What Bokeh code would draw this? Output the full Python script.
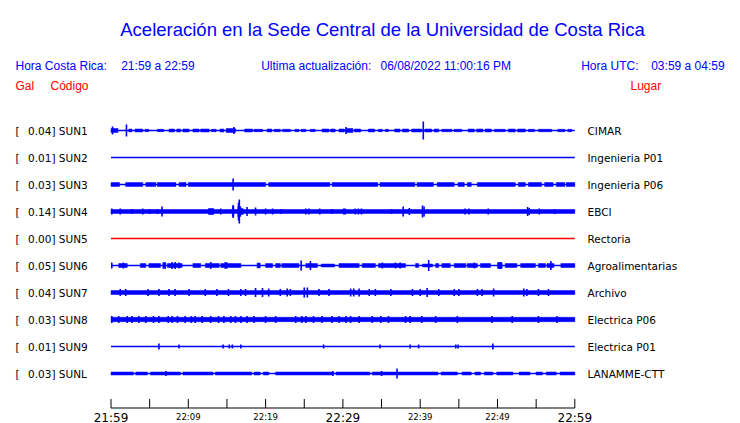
from bokeh.plotting import figure
from bokeh.models import Range1d, ColumnDataSource
from bokeh.core.properties import value
from bokeh.embed import file_html
from bokeh.resources import INLINE

# ---------------- data ----------------
TITLE = "Aceleración en la Sede Central de la Universidad de Costa Rica"
codes = ["SUN1", "SUN2", "SUN3", "SUN4", "SUN5", "SUN6", "SUN7", "SUN8", "SUN9", "SUNL"]
places = ["CIMAR", "Ingenieria P01", "Ingenieria P06", "EBCI", "Rectoria",
          "Agroalimentarias", "Archivo", "Electrica P06", "Electrica P01", "LANAMME-CTT"]
peak_gal = [0.04, 0.01, 0.03, 0.14, 0.00, 0.05, 0.04, 0.03, 0.01, 0.03]
trace_colors = ["blue", "blue", "blue", "blue", "red", "blue", "blue", "blue", "blue", "blue"]

# minutes after 21:59 local time
tick_minutes = [0, 5, 10, 15, 20, 25, 30, 35, 40, 45, 50, 55, 60]
big_label_minutes = [0, 30, 60]
big_labels = ["21:59", "22:29", "22:59"]
small_label_minutes = [10, 20, 40, 50]
small_labels = ["22:09", "22:19", "22:39", "22:49"]

# bursts of activity: (start min, end min, half amplitude)
bursts = {
    "SUN1": [(0.0, 0.9, 2), (2.3, 2.7, 1.5), (3.1, 4.1, 1.5), (4.4, 4.9, 1.2), (6.0, 6.8, 1.2),
             (7.5, 8.2, 1.5), (8.5, 9.0, 1.5), (9.3, 10.1, 1.5), (10.6, 11.4, 1.5), (11.6, 12.7, 1.5),
             (13.0, 13.6, 1.2), (14.1, 14.6, 1.5), (14.9, 16.1, 2), (17.3, 18.3, 1.5),
             (18.5, 19.6, 1.2), (20.2, 20.8, 1.5), (21.1, 21.9, 1.2), (22.2, 23.2, 1.2),
             (23.8, 24.3, 1.2), (24.6, 25.2, 1.2), (25.8, 26.4, 1.2), (27.3, 28.2, 1.5),
             (28.4, 29.0, 1.5), (29.5, 30.2, 1.5), (30.4, 31.3, 2), (31.5, 32.3, 1.5),
             (33.3, 34.1, 1.5), (34.6, 35.1, 1.2), (35.5, 35.9, 1.2), (36.7, 37.4, 1.5),
             (37.7, 38.5, 1.5), (38.9, 40.2, 1.5), (40.6, 41.5, 1.5), (41.8, 42.4, 1.5),
             (42.8, 44.1, 1.2), (44.4, 45.4, 1.2), (46.2, 47.0, 1.5), (47.3, 48.1, 1.5),
             (48.4, 49.2, 1.5), (49.6, 51.0, 1.2), (51.4, 52.3, 1.5), (52.6, 53.6, 1.5),
             (54.0, 54.8, 1.2), (55.3, 57.0, 1.2), (57.8, 58.7, 1.2), (59.1, 59.6, 1.2)],
    "SUN2": [],
    "SUN3": [(0, 1.1, 2), (1.9, 4.1, 2), (4.5, 5.8, 2), (6.0, 8.4, 2), (8.8, 9.7, 2),
             (10.0, 20.0, 2), (20.4, 28.3, 2), (28.6, 34.5, 2), (34.8, 39.3, 2),
             (39.6, 41.7, 2), (42.2, 44.4, 2), (44.9, 45.7, 2), (46.1, 46.6, 2),
             (47.4, 52.3, 2), (52.7, 53.6, 2), (54.0, 55.7, 2), (56.1, 57.2, 2),
             (57.6, 58.7, 2), (58.9, 60, 2)],
    "SUN4": [(0, 60, 2), (12.6, 13.3, 3), (15.7, 15.9, 5), (16.4, 16.8, 5), (16.8, 17.1, 3)],
    "SUN5": [],
    "SUN6": [(1.0, 2.1, 2), (3.8, 4.5, 2), (4.9, 6.4, 2), (6.7, 7.1, 3), (7.3, 9.2, 2),
             (10.6, 11.6, 2), (12.2, 14.0, 2), (14.2, 16.8, 2), (18.9, 19.3, 2.5),
             (20.0, 20.9, 2), (21.3, 21.9, 2), (22.1, 24.3, 2), (25.2, 26.7, 2),
             (27.2, 28.9, 1.5), (29.5, 32.1, 2), (32.5, 34.2, 2), (34.6, 38.1, 2),
             (39.4, 39.8, 2), (40.3, 41.6, 1.5), (42.0, 42.4, 2), (42.8, 43.9, 2),
             (44.4, 45.9, 2), (46.1, 47.4, 2), (47.8, 49.1, 2), (50.0, 50.6, 3),
             (51.0, 52.5, 2), (53.0, 54.9, 2), (55.3, 56.2, 2), (56.4, 57.3, 2), (58.2, 60, 2)],
    "SUN7": [(0, 60, 2)],
    "SUN8": [(0, 60, 2.2)],
    "SUN9": [],
    "SUNL": [(0, 2.9, 1.5), (3.2, 4.7, 1.5), (5.1, 9.0, 1.5), (9.3, 13.2, 1.5),
             (13.5, 18.2, 1.5), (18.5, 19.3, 1.5), (19.7, 20.4, 1.5), (21.3, 28.8, 1.5),
             (29.1, 33.5, 1.5), (33.8, 42.3, 1.5), (42.7, 44.8, 1.5), (45.4, 46.6, 1.5),
             (47.1, 47.8, 1.5), (48.3, 49.4, 1.5), (49.9, 52.0, 1.5), (52.8, 54.2, 1.5),
             (55.0, 55.8, 1.5), (56.3, 57.6, 1.5), (58.1, 60, 1.5)],
}

# single peaks: (minute, half amplitude)
spikes = {
    "SUN1": [(0.2, 4), (2.0, 6), (15.9, 3.5), (30.4, 3.5), (40.4, 9)],
    "SUN2": [],
    "SUN3": [(15.8, 6)],
    "SUN4": [(0.1, 3), (1.2, 3), (2.7, 2.5), (4.1, 3), (5.0, 2.5), (6.0, 2.5), (6.6, 5),
             (14.2, 3), (15.8, 6.5), (16.5, 9), (16.6, 12), (17.6, 4.5), (18.7, 4),
             (20.0, 3), (20.9, 3), (22.0, 2.5), (25.2, 3), (25.6, 3), (27.0, 3), (28.6, 2.5),
             (30.1, 3), (30.3, 3), (31.6, 3), (32.0, 3), (32.4, 3), (36.3, 2.5), (37.8, 5),
             (38.6, 3.5), (40.3, 6), (40.5, 5), (45.8, 3), (46.3, 3), (48.8, 3), (53.9, 4.5),
             (54.1, 3.5), (55.4, 3), (57.4, 2.5)],
    "SUN5": [],
    "SUN6": [(0.1, 3), (1.6, 3), (7.9, 3.5), (8.3, 3.5), (8.8, 3), (12.9, 3.5), (14.8, 3.5),
             (15.0, 3), (24.6, 5), (25.8, 4.5), (35.1, 3), (36.8, 3), (37.4, 3), (41.1, 5.5),
             (47.0, 3), (50.3, 3.5), (56.9, 4.5)],
    "SUN7": [(1.2, 3.5), (1.9, 3.5), (4.8, 3.5), (6.2, 3.5), (7.5, 3.5), (8.3, 3.5),
             (10.1, 3.5), (12.2, 3.5), (13.7, 3.5), (15.2, 3.5), (16.8, 3.5), (17.4, 3.5),
             (18.7, 4.5), (19.6, 4.5), (20.4, 4), (21.9, 3.5), (22.8, 4), (23.2, 3.5),
             (25.0, 5), (25.4, 5), (26.9, 3.5), (28.2, 3.5), (31.0, 4), (31.4, 4), (32.1, 4),
             (33.4, 3.5), (34.2, 3.5), (36.2, 3.5), (39.0, 3.5), (40.0, 3.5), (40.9, 4.5),
             (42.4, 3.5), (44.4, 3.5), (45.0, 3.5), (47.4, 3.5), (48.0, 3.5), (49.5, 4),
             (53.4, 4), (53.8, 3.5), (55.3, 3.5), (56.6, 3.5)],
    "SUN8": [(0.1, 3.5), (1.0, 3.5), (2.1, 3.5), (2.7, 3.5), (3.6, 3.5), (4.5, 3.5),
             (5.5, 3.5), (6.2, 3.5), (7.4, 3.5), (7.9, 3.5), (8.6, 3.5), (9.6, 3.5),
             (10.4, 3.5), (10.9, 3.5), (11.8, 3.5), (12.9, 3.5), (13.9, 3.5), (14.6, 3.5),
             (15.5, 3.5), (16.1, 3.5), (16.8, 3.5), (17.6, 3.5), (18.5, 3.5), (20.0, 3.5),
             (21.3, 3.5), (23.9, 3.5), (24.7, 3.5), (25.2, 3.5), (26.2, 3.5), (27.3, 3.5),
             (28.6, 3.5), (29.5, 3.5), (30.4, 3.5), (31.0, 3.5), (32.1, 3.5), (33.8, 3.5),
             (34.9, 3.5), (35.9, 3.5), (38.1, 3.5), (38.7, 3.5), (40.2, 3.5), (42.0, 3.5),
             (44.8, 3.5), (49.3, 3.5), (51.9, 3.5), (55.3, 3.5), (57.7, 3.5)],
    "SUN9": [(6.2, 3), (8.8, 2), (14.5, 2), (15.3, 2), (15.7, 2), (16.8, 2), (27.5, 2),
             (34.8, 2), (38.7, 2), (39.8, 2), (44.6, 2), (44.9, 2), (49.4, 3)],
    "SUNL": [(7.1, 2.5), (28.7, 2.5), (35.0, 2.5), (37.0, 5)],
}

# ---------------- layout (page pixels) ----------------
W, H = 740, 423
PX0 = 110.5          # page x of 21:59
PX_PER_MIN = 7.73
x0 = -PX0 / PX_PER_MIN
x1 = x0 + W / PX_PER_MIN
ROW0, ROW_STEP = 130, 27
AXIS_Y = 407.5

p = figure(width=W, height=H, x_range=Range1d(x0, x1), y_range=Range1d(H, 0),
           output_backend="svg", toolbar_location=None, min_border=0,
           x_axis_type=None, y_axis_type=None, outline_line_color=None)
p.grid.visible = False
p.extra_x_ranges = {"px": Range1d(0, W)}
p.background_fill_color = "white"
p.border_fill_color = "white"

BLUE = "#0000FF"
RED = "#FF0000"

# ---- traces ----
for i, code in enumerate(codes):
    yc = ROW0 + ROW_STEP * i
    col = BLUE if trace_colors[i] == "blue" else RED
    lw = 1.6 if code == "SUN1" else 1.3
    p.segment(x0=[0], y0=[yc], x1=[60], y1=[yc], line_color=col, line_width=lw)
    b = bursts[code]
    if b:
        src = ColumnDataSource(dict(
            left=[t[0] for t in b], right=[t[1] for t in b],
            top=[yc - t[2] for t in b], bottom=[yc + t[2] for t in b]))
        p.quad(left="left", right="right", top="top", bottom="bottom", source=src,
               fill_color=col, line_color=col, line_width=0.5)
    s = spikes[code]
    if s:
        src = ColumnDataSource(dict(
            x=[t[0] for t in s], ya=[yc - t[1] for t in s], yb=[yc + t[1] for t in s]))
        p.segment(x0="x", y0="ya", x1="x", y1="yb", source=src,
                  line_color=col, line_width=1.6)

# ---- time axis ----
p.segment(x0=[0], y0=[AXIS_Y], x1=[60], y1=[AXIS_Y], line_color="black", line_width=1)
p.segment(x0=tick_minutes, y0=[AXIS_Y - 9] * len(tick_minutes),
          x1=tick_minutes, y1=[AXIS_Y] * len(tick_minutes),
          line_color="black", line_width=1)
p.text(x=big_label_minutes, y=[AXIS_Y + 9.5] * 3, text=big_labels,
       text_font=value("DejaVu Sans"), text_font_size=value("12px"),
       text_align="center", text_baseline="alphabetic", text_color="black")
p.text(x=small_label_minutes, y=[AXIS_Y + 8.5] * 4, text=small_labels,
       text_font=value("DejaVu Sans"), text_font_size=value("8.5px"),
       text_align="center", text_baseline="alphabetic", text_color="black")

# ---- station labels ----
row_y = [ROW0 + ROW_STEP * i for i in range(len(codes))]
p.text(x=[15] * len(codes), y=row_y, text=["["] * len(codes), x_range_name="px",
       text_font=value("DejaVu Sans"), text_font_size=value("10.5px"),
       text_align="left", text_baseline="middle", text_color="black")
p.text(x=[27.5] * len(codes), y=row_y,
       text=[f"{v:.2f}] {c}" for v, c in zip(peak_gal, codes)], x_range_name="px",
       text_font=value("DejaVu Sans"), text_font_size=value("10.5px"),
       text_align="left", text_baseline="middle", text_color="black")
p.text(x=[587] * len(codes), y=row_y, text=places, x_range_name="px",
       text_font=value("DejaVu Sans"), text_font_size=value("10.5px"),
       text_align="left", text_baseline="middle", text_color="black")

# ---- header ----
SANS = value("Liberation Sans")
p.text(x=[382], y=[29], text=[TITLE], x_range_name="px", text_font=SANS,
       text_font_size=value("18.5px"), text_align="center", text_baseline="alphabetic",
       text_color=BLUE)
hdr_x = [15, 120.7, 260.7, 380, 580.7, 650.7]
hdr_t = ["Hora Costa Rica:", "21:59 a 22:59", "Ultima actualización:",
         "06/08/2022 11:00:16 PM", "Hora UTC:", "03:59 a 04:59"]
p.text(x=hdr_x, y=[65] * len(hdr_x), text=hdr_t, x_range_name="px", text_font=SANS,
       text_font_size=value("12px"), text_align="left", text_baseline="alphabetic",
       text_color=BLUE)
p.text(x=[15, 50, 630], y=[85] * 3, text=["Gal", "Código", "Lugar"], x_range_name="px",
       text_font=SANS, text_font_size=value("12px"), text_align="left",
       text_baseline="alphabetic", text_color=RED)

open("out.html", "w").write(file_html(p, INLINE))
